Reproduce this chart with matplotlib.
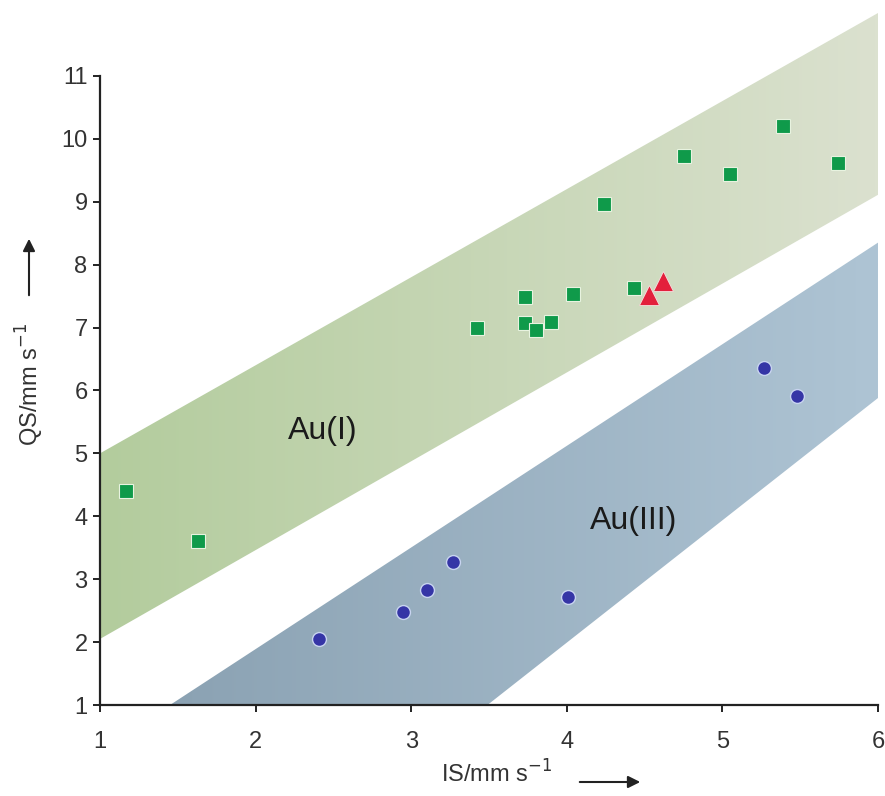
import numpy as np
import matplotlib.pyplot as plt
from matplotlib.patches import Polygon, FancyArrowPatch
from matplotlib.colors import LinearSegmentedColormap

plt.rcParams['font.family'] = ['Liberation Sans', 'DejaVu Sans']

# Au(I) compounds (green squares)
au1_is = [1.17, 1.63, 3.42, 3.73, 3.73, 3.80, 3.90, 4.04, 4.24, 4.43, 4.75, 5.05, 5.39, 5.74]
au1_qs = [4.40, 3.61, 6.99, 7.49, 7.07, 6.96, 7.09, 7.53, 8.97, 7.63, 9.73, 9.44, 10.20, 9.62]

# red triangles
tri_is = [4.53, 4.62]
tri_qs = [7.52, 7.74]

# Au(III) compounds (blue dots)
au3_is = [2.41, 2.95, 3.10, 3.27, 4.01, 5.27, 5.48]
au3_qs = [2.05, 2.48, 2.83, 3.27, 2.72, 6.36, 5.91]

# shaded regions (corner points)
band1_is = [1.0, 1.0, 6.0, 6.0]
band1_qs = [2.05, 5.0, 12.0, 9.11]
band3_is = [1.45, 6.0, 6.0, 3.49]
band3_qs = [1.0, 8.35, 5.88, 1.0]

fig = plt.figure(figsize=(8.85, 7.96), dpi=100)
ax = fig.add_axes([100/885, 91/796, 778/885, 692/796])
ax.set_xlim(1, 6)
ax.set_ylim(1, 12.0)

grad = np.linspace(0, 1, 256).reshape(1, -1)
green_cmap = LinearSegmentedColormap.from_list('g', ['#b3cc9d', '#dbe1cf'])
blue_cmap = LinearSegmentedColormap.from_list('b', ['#8ba2b3', '#aec4d4'])

for xs, ys, cmap in [(band1_is, band1_qs, green_cmap), (band3_is, band3_qs, blue_cmap)]:
    poly = Polygon(list(zip(xs, ys)), closed=True, facecolor='none', edgecolor='none')
    ax.add_patch(poly)
    im = ax.imshow(grad, cmap=cmap, aspect='auto', extent=[min(xs), max(xs), 1, 12],
                   origin='lower', zorder=1)
    im.set_clip_path(poly)

ax.plot(au1_is, au1_qs, 's', color='#0f9a4a', markersize=10, markeredgecolor='#e8f3e0',
        markeredgewidth=0.8, zorder=3)
ax.plot(tri_is, tri_qs, '^', color='#e3203c', markersize=14, markeredgecolor='#f5e0e0',
        markeredgewidth=0.6, zorder=3)
ax.plot(au3_is, au3_qs, 'o', color='#3535a6', markersize=10, markeredgecolor='#c8d4f0',
        markeredgewidth=1.0, zorder=3)

ax.text(2.43, 5.35, 'Au(I)', fontsize=23, color='#1a1a1a', ha='center', va='center', zorder=4)
ax.text(4.43, 3.92, 'Au(III)', fontsize=23, color='#1a1a1a', ha='center', va='center', zorder=4)

ax.spines['top'].set_visible(False)
ax.spines['right'].set_visible(False)
ax.spines['left'].set_bounds(1, 11)
for side in ['left', 'bottom']:
    ax.spines[side].set_linewidth(1.6)
    ax.spines[side].set_color('#222222')
ax.set_xticks(range(1, 7))
ax.set_yticks(range(1, 12))
ax.tick_params(axis='both', direction='out', length=5, width=1.4, color='#222222',
               labelsize=17, labelcolor='#333333')
ax.tick_params(axis='x', pad=14)
ax.tick_params(axis='y', pad=4)

# axis labels with arrows
fig.text(497/885, 1 - 774/796, r'IS/mm s$^{-1}$', fontsize=17, color='#333333',
         ha='center', va='center')
fig.text(30/885, 1 - 384/796, r'QS/mm s$^{-1}$', fontsize=17, color='#333333',
         ha='center', va='center', rotation=90)
fig.add_artist(FancyArrowPatch(
    (577/885, 1 - 782/796), (643/885, 1 - 782/796), transform=fig.transFigure,
    arrowstyle='-|>', mutation_scale=18, color='#222222', lw=1.5))
fig.add_artist(FancyArrowPatch(
    (29/885, 1 - 298/796), (29/885, 1 - 236/796), transform=fig.transFigure,
    arrowstyle='-|>', mutation_scale=18, color='#222222', lw=1.5))

fig.savefig('out.png', dpi=100)
